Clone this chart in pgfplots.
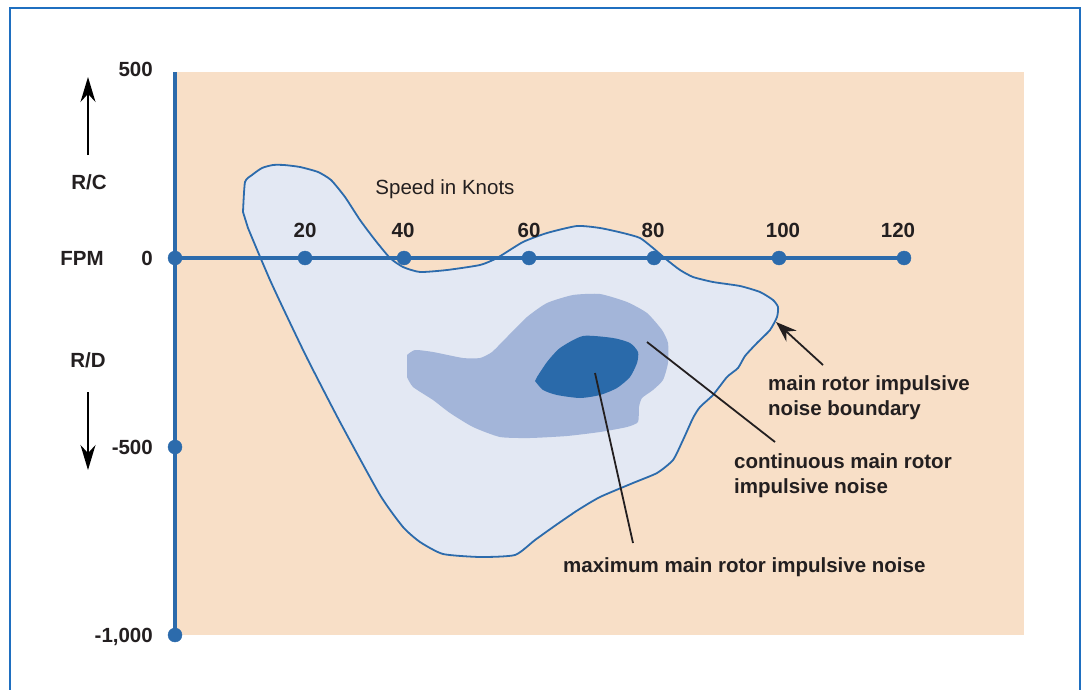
\documentclass[border=0pt]{standalone}
\usepackage{pgfplots}
\pgfplotsset{compat=1.18}
\usepackage{fontspec}
\setmainfont{Liberation Sans}
\usetikzlibrary{arrows.meta}
\definecolor{peach}{HTML}{F8DFC7}
\definecolor{lav}{HTML}{E3E8F3}
\definecolor{midb}{HTML}{A3B5D9}
\definecolor{darkb}{HTML}{2A6AAA}
\definecolor{axb}{HTML}{2C6BAC}
\definecolor{frameb}{HTML}{1F6FC0}
\definecolor{txt}{HTML}{231F20}
\begin{document}
\begin{tikzpicture}[
  lab/.style={font=\fontsize{20.5}{25}\selectfont\bfseries, text=txt, inner sep=0pt},
  reg/.style={font=\fontsize{20.5}{25}\selectfont, text=txt, inner sep=0pt}]
\begin{axis}[x=1pt, y=1pt, y dir=reverse, xmin=0, xmax=1081, ymin=0, ymax=690,
  scale only axis, hide axis]
% picture extent
\path[draw=none] (axis cs:0,0) rectangle (axis cs:1081,690);
% background
\addplot[fill=peach, draw=none] coordinates {(175,72) (1024,72) (1024,635) (175,635)} -- cycle;
% outer boundary: main rotor impulsive noise boundary
\addplot[fill=lav, draw=axb, line width=1.8pt, smooth, tension=0.35] coordinates {
(243,212) (245,182) (252,175) (262,168) (273,165) (284,165) (300,167) (318,172) (331,180)
(345,197) (360,220) (375,240) (390,258) (403,267) (420,272) (447,270) (480,265) (497,258)
(523,242) (547,233) (577,226) (600,228) (623,233) (640,238) (653,248) (667,260) (680,270)
(693,277) (713,282) (740,286) (760,292) (773,300) (778,307) (777,317) (770,330) (757,343)
(745,356) (738,368) (727,377) (713,395) (700,407) (693,418) (683,440) (673,460) (657,473)
(633,483) (600,497) (578,510) (556,525) (535,540) (515,555) (480,557) (443,554) (420,542)
(403,527) (380,495) (340,422) (307,358) (283,308) (270,280) (258,252) (248,228)} -- cycle;
% continuous main rotor impulsive noise
\addplot[fill=midb, draw=none, smooth, tension=0.35] coordinates {
(407,355) (415,350) (433,352) (463,358) (480,358) (492,352) (507,337) (527,317) (547,303)
(573,295) (600,294) (627,302) (647,313) (662,330) (668,343) (668,363) (663,380) (653,390)
(642,398) (639,407) (638,422) (627,427) (600,432) (567,436) (530,438) (500,437) (473,427)
(450,413) (433,400) (413,387) (407,377)} -- cycle;
% maximum main rotor impulsive noise
\addplot[fill=darkb, draw=none, smooth, tension=0.4] coordinates {
(537,377) (547,362) (560,348) (583,336) (613,338) (630,343) (638,352) (637,363) (630,377)
(617,388) (600,395) (580,398) (557,395) (543,390) (535,381)} -- cycle;
% axes
\addplot[axb, line width=3.5pt] coordinates {(175,72) (175,635)};
\addplot[axb, line width=3.5pt] coordinates {(175,258) (904,258)};
\addplot[only marks, mark=*, mark size=7pt, mark options={fill=axb, draw=axb}] coordinates {
(175,258) (305,258) (404,258) (529,258) (654,258) (779,258) (904,258) (175,447) (175,635)};
% frame
\draw[frameb, line width=1.3pt] (axis cs:10,690) -- (axis cs:10,8) -- (axis cs:1080,8) -- (axis cs:1080,690);
% annotation lines
\draw[txt, line width=1.8pt, -{Stealth[length=21pt, width=15pt]}] (axis cs:823,365) -- (axis cs:776,322);
\draw[txt, line width=1.8pt] (axis cs:647,342) -- (axis cs:775,442);
\draw[txt, line width=1.8pt] (axis cs:595,373) -- (axis cs:633,543);
% side arrows
\draw[black, line width=1.6pt, -{Stealth[length=25pt, width=15pt]}] (axis cs:88,155) -- (axis cs:88,77);
\draw[black, line width=1.6pt, -{Stealth[length=25pt, width=15pt]}] (axis cs:88,392) -- (axis cs:88,470);
% y labels
\node[lab, anchor=base east] at (axis cs:153,77) {500};
\node[lab, anchor=base] at (axis cs:89,189) {R/C};
\node[lab, anchor=base] at (axis cs:82,265) {FPM};
\node[lab, anchor=base] at (axis cs:147,265) {0};
\node[lab, anchor=base] at (axis cs:88,367) {R/D};
\node[lab, anchor=base east] at (axis cs:153,454) {-500};
\node[lab, anchor=base east] at (axis cs:153,642) {-1,000};
% x labels
\node[lab, anchor=base] at (axis cs:305,237) {20};
\node[lab, anchor=base] at (axis cs:403,237) {40};
\node[lab, anchor=base] at (axis cs:529,237) {60};
\node[lab, anchor=base] at (axis cs:653,237) {80};
\node[lab, anchor=base] at (axis cs:783,237) {100};
\node[lab, anchor=base] at (axis cs:898,237) {120};
\node[reg, anchor=base] at (axis cs:445,194) {Speed in Knots};
% annotations
\node[lab, anchor=base west] at (axis cs:768,390) {main rotor impulsive};
\node[lab, anchor=base west] at (axis cs:768,415) {noise boundary};
\node[lab, anchor=base west] at (axis cs:734,468) {continuous main rotor};
\node[lab, anchor=base west] at (axis cs:734,493) {impulsive noise};
\node[lab, anchor=base west] at (axis cs:563,572) {maximum main rotor impulsive noise};
\end{axis}
\end{tikzpicture}
\end{document}
